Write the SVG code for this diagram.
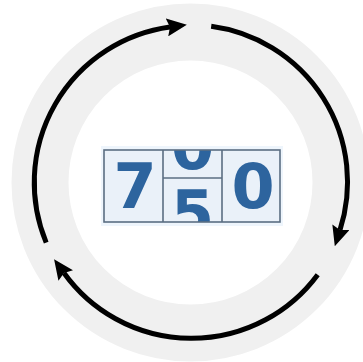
<svg xmlns="http://www.w3.org/2000/svg" width="363" height="362" viewBox="0 0 363 362">
<defs>
<marker id="ah" viewBox="0 0 20 18" refX="3" refY="9" markerWidth="20" markerHeight="18" markerUnits="userSpaceOnUse" orient="auto">
<path d="M0,0 L20,9 L0,18 L3,9 z" fill="#000"/>
</marker>
<clipPath id="mid"><rect x="163" y="150" width="59" height="72"/></clipPath>
</defs>
<style>
.arc{fill:none;stroke:#000;stroke-width:5;marker-end:url(#ah)}
.dig{font-family:"DejaVu Sans",Verdana,sans-serif;font-weight:bold;font-size:62px;fill:#2d649e;text-anchor:middle}
.cell{fill:none;stroke:#5b6e82;stroke-width:1.6}
</style>
<rect width="363" height="362" fill="#fff"/>
<g id="ring">
<circle cx="190.5" cy="182.5" r="150.5" fill="none" stroke="#f0f0f0" stroke-width="57"/>
</g>
<g id="counter">
<rect x="101" y="146" width="182" height="80" fill="#eef5fc"/>
<rect x="104" y="150" width="176" height="72" fill="#eaf1f9"/>
<text class="dig" x="135" y="208">7</text>
<g clip-path="url(#mid)">
<text class="dig" x="192.5" y="169">0</text>
<text class="dig" x="192.5" y="235">5</text>
</g>
<text class="dig" x="253" y="208">0</text>
<rect class="cell" x="104" y="150" width="176" height="72"/>
<line class="cell" x1="163" y1="150" x2="163" y2="222"/>
<line class="cell" x1="222" y1="150" x2="222" y2="222"/>
<line class="cell" x1="163" y1="178" x2="222" y2="178"/>
</g>
<g id="connectors">
<path class="arc" d="M46.2,242.6 A157,157 0 0 1 170,27"/>
<path class="arc" d="M211.2,26.3 A157,157 0 0 1 340,230"/>
<path class="arc" d="M317.7,274.7 A157,157 0 0 1 64,273"/>
</g>
</svg>
